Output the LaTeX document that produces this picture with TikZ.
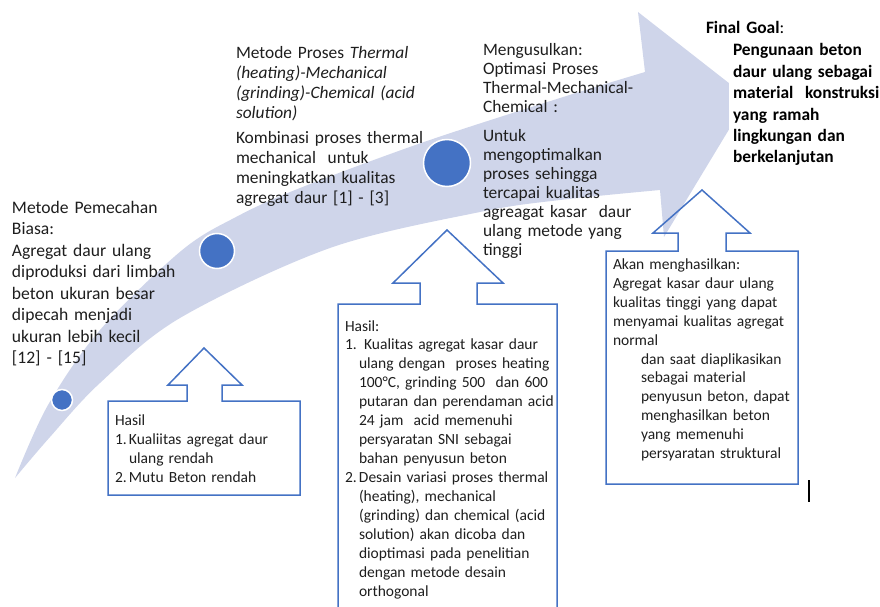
\documentclass[tikz,border=0pt]{standalone}
\usepackage{fontspec}
\setmainfont{Carlito}
\setlength{\parindent}{0pt}
\definecolor{bandc}{RGB}{207,213,234}
\definecolor{accent}{RGB}{68,114,196}
\definecolor{ink}{RGB}{30,30,30}
\newcommand{\numitem}[1]{\makebox[14pt][l]{#1}}
\newcommand{\indentA}{\hspace*{14pt}}
\newcommand{\indentB}{\hspace*{28pt}}
\begin{document}
\begin{tikzpicture}[x=1pt,y=-1pt,
  txt/.style={anchor=base west, inner sep=0pt, outer sep=0pt, text width=260pt, align=left, text=ink},
  big/.style={font=\fontsize{17.4}{#1}\selectfont},
  small/.style={font=\fontsize{15.5}{#1}\selectfont},
  dot/.style={circle, fill=accent, draw=white, line width=1.5pt, inner sep=0pt},
  outline/.style={draw=accent, line width=1.5pt, line join=miter}
]
\useasboundingbox (0,0) rectangle (880,607);
\clip (0,0) rectangle (880,607);

% curved band with arrow head
\fill[bandc] plot[smooth,tension=0.55] coordinates {(15,478) (48,405) (100,330) (181,251) (236,217) (300,188) (424,142) (560,98) (645,72)}
  -- (638,12) -- (748,98) -- (664,237)
  -- plot[smooth,tension=0.55] coordinates {(660,190) (560,200) (480,212) (330,248) (180,318) (100,383) (50,437) (15,478)} -- cycle;

% white text box of the final goal
\fill[white] (729,40) rectangle (880,178);

% dots
\node[dot, minimum size=21pt] (d1) at (62,400) {};
\node[dot, minimum size=35pt] (d2) at (217,251) {};
\node[dot, minimum size=47pt] (d3) at (447,163) {};

% boxes with upward arrows
\draw[outline] (108,401) -- (187,401) -- (187,385) -- (168,385) -- (204,348) -- (242,385) -- (222,385) -- (222,401) -- (300,401) -- (300,495) -- (108,495) -- cycle;
\draw[outline] (338,304) -- (420,304) -- (420,283) -- (393,283) -- (447,230) -- (503,283) -- (477,283) -- (477,304) -- (557,304) -- (557,625) -- (338,625) -- cycle;
\draw[outline] (606,251) -- (678,251) -- (678,233) -- (653,233) -- (702,190) -- (750,233) -- (726,233) -- (726,251) -- (798,251) -- (798,484) -- (606,484) -- cycle;

% cursor mark
\draw[line width=2pt, black] (809,480) -- (809,502);

% texts
\node[txt, font=\fontsize{17.6}{21.5}\selectfont] (tA) at (12,213) {Metode Pemecahan\\Biasa:\\Agregat daur ulang\\diproduksi dari limbah\\beton ukuran besar\\dipecah menjadi\\ukuran lebih kecil\\{[12]} - [15]};

\node[txt, big=20] (tB1) at (236,59) {Metode Proses \textit{Thermal}\\\textit{(heating)-Mechanical}\\\textit{(grinding)-Chemical (acid}\\\textit{solution)}};
\node[txt, big=20] (tB2) at (236,143) {Kombinasi proses thermal\\mechanical~ untuk\\meningkatkan kualitas\\agregat daur [1] - [3]};

\node[txt, big=19] (tC1) at (483,56) {Mengusulkan:\\Optimasi Proses\\Thermal-Mechanical-\\Chemical :};
\node[txt, big=19] (tC2) at (483,141) {Untuk\\mengoptimalkan\\proses sehingga\\tercapai kualitas\\agreagat kasar~ daur\\ulang metode yang\\tinggi};

\node[txt, big=21.4, text=black] (tD1) at (706,34) {\textbf{Final Goal}:};
\node[txt, big=21.4, text=black] (tD2) at (733,56) {\bfseries Pengunaan beton\\daur ulang sebagai\\material~ konstruksi\\yang ramah\\lingkungan dan\\berkelanjutan};

\node[txt, small=19] (tE) at (115,425) {Hasil\\\numitem{1.}Kualiitas agregat daur\\\indentA ulang rendah\\\numitem{2.}Mutu Beton rendah};

\node[txt, small=18.93] (tF) at (345,331) {Hasil:\\\numitem{1.}~Kualitas agregat kasar daur\\\indentA ulang dengan~ proses heating\\\indentA 100°C, grinding 500~ dan 600\\\indentA putaran dan perendaman acid\\\indentA 24 jam~ acid memenuhi\\\indentA persyaratan SNI sebagai\\\indentA bahan penyusun beton\\\numitem{2.}Desain variasi proses thermal\\\indentA (heating), mechanical\\\indentA (grinding) dan chemical (acid\\\indentA solution) akan dicoba dan\\\indentA dioptimasi pada penelitian\\\indentA dengan metode desain\\\indentA orthogonal};

\node[txt, small=18.9] (tG) at (613,269.5) {Akan menghasilkan:\\Agregat kasar daur ulang\\kualitas tinggi yang dapat\\menyamai kualitas agregat\\normal\\\indentB dan saat diaplikasikan\\\indentB sebagai material\\\indentB penyusun beton, dapat\\\indentB menghasilkan beton\\\indentB yang memenuhi\\\indentB persyaratan struktural};
\end{tikzpicture}
\end{document}
